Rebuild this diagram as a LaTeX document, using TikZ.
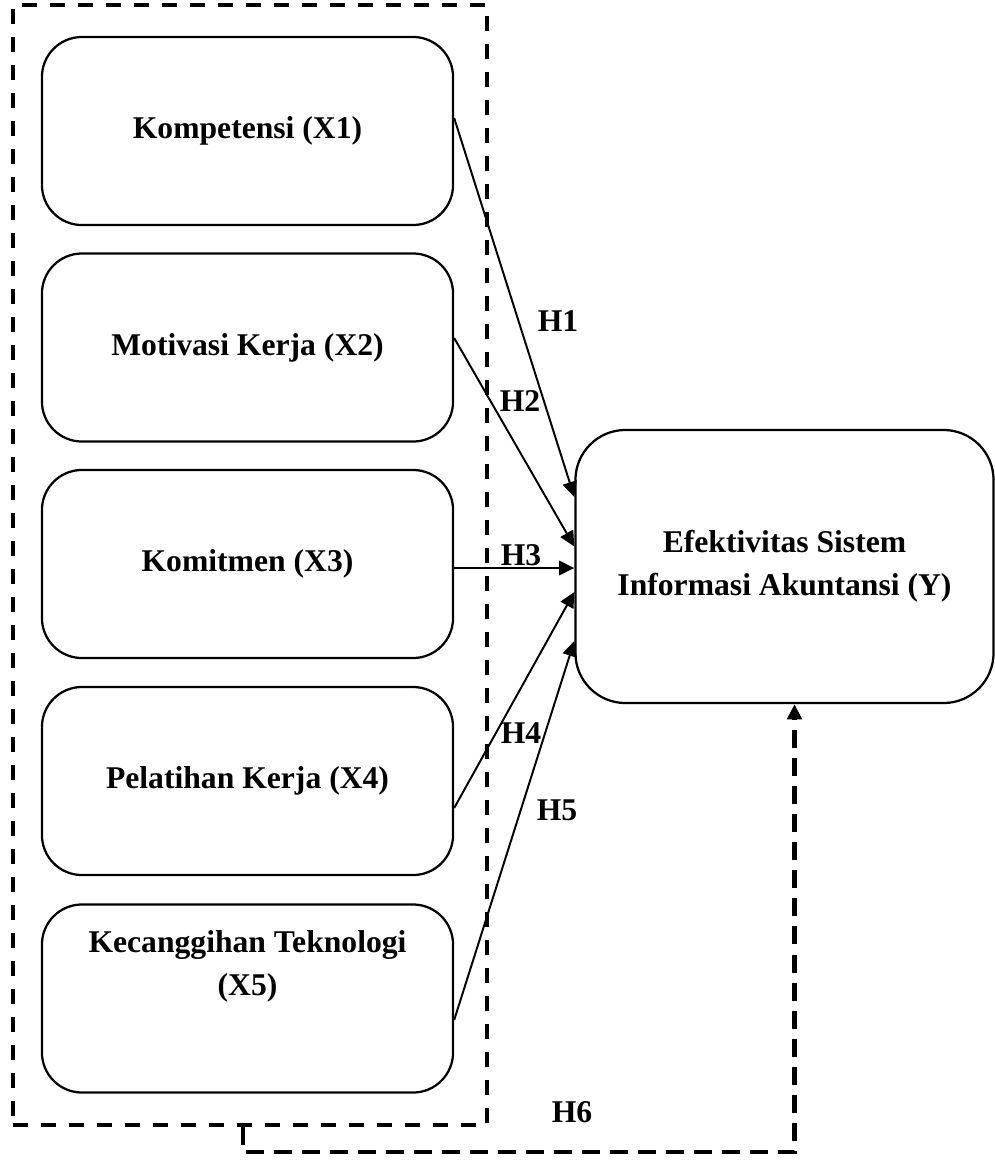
\documentclass[tikz,border=0pt]{standalone}
\usepackage{fontspec}
\setmainfont{Liberation Serif}
\usetikzlibrary{arrows.meta}

\tikzset{%
        every node/.style = {font = \bfseries\fontsize{22.5}{30.5}\selectfont},
        varbox/.style = {rectangle, draw, line width = 1.6pt, rounded corners = 1cm, minimum width = 10.275cm, minimum height = 4.7cm, align = center},
        depbox/.style = {varbox, rounded corners = 1.25cm, minimum width = 10.45cm, minimum height = 6.825cm},
        grpbox/.style = {rectangle, draw, line width = 2.9pt, dash pattern = on 0.375cm off 0.325cm, minimum width = 11.85cm, minimum height = 28cm},
        hyparrow/.style = {-{Triangle[length = 0.38cm, width = 0.36cm]}, line width = 1.4pt, draw = black},
        simularrow/.style = {hyparrow, line width = 2.9pt, dash pattern = on 0.45cm off 0.25cm}
    }

\begin{document}
\begin{tikzpicture}[x = 0.025cm, y = -0.025cm]
				\useasboundingbox (0,0) rectangle (995,1160);
				\node[grpbox]			(grp)		at (250,565)		{};
				\node[varbox]			(x1)		at (247.5,131)		{Kompetensi (X1)};
				\node[varbox]			(x2)		at (247.5,347.5)	{Motivasi Kerja (X2)};
				\node[varbox]			(x3)		at (247.5,564)		{Komitmen (X3)};
				\node[varbox]			(x4)		at (247.5,781)		{Pelatihan Kerja (X4)};
				\node[varbox]			(x5)		at (247.5,998.5)	{};
				\node[]					(x5text)	at ([shift={(0,-33)}]x5.center)	{\begin{tabular}{c}Kecanggihan Teknologi\\(X5)\end{tabular}};
				\node[depbox]			(y)			at (784.5,566.5)	{Efektivitas Sistem\\Informasi Akuntansi (Y)};

				% hypotheses
				\draw[hyparrow] ([shift={(0,-13)}]x1.east) -- ([shift={(0,-69.5)}]y.west);
				\draw[hyparrow] ([shift={(0,-9.5)}]x2.east) -- ([shift={(0,-20)}]y.west);
				\draw[hyparrow] ([shift={(0,4)}]x3.east) -- ([shift={(0,1.5)}]y.west);
				\draw[hyparrow] ([shift={(0,27)}]x4.east) -- ([shift={(0,25.5)}]y.west);
				\draw[hyparrow] ([shift={(0,21.5)}]x5.east) -- ([shift={(0,74.5)}]y.west);
				\draw[simularrow] ([shift={(-7,0)}]grp.south) -- ++(0,25) -| ([shift={(10,0)}]y.south);

				\node[]	(h1)	at (558,321)	{H1};
				\node[]	(h2)	at (520,401)	{H2};
				\node[]	(h3)	at (521,555)	{H3};
				\node[]	(h4)	at (521,733)	{H4};
				\node[]	(h5)	at (557,810)	{H5};
				\node[]	(h6)	at (572,1112)	{H6};
			\end{tikzpicture}
\end{document}
